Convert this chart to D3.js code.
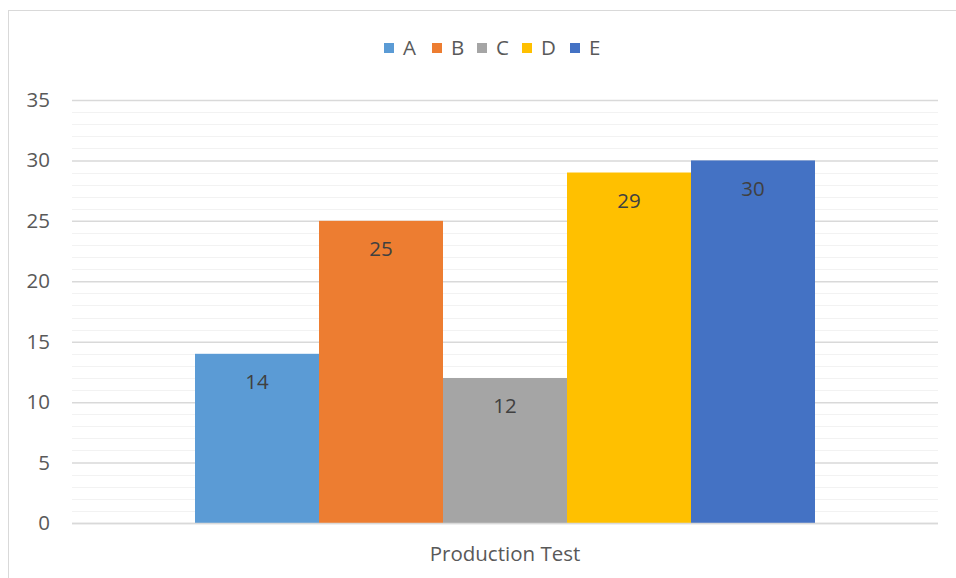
<!DOCTYPE html>
<html>
<head>
<meta charset="utf-8">
<script src="https://cdn.jsdelivr.net/npm/d3@7/dist/d3.min.js"></script>
<style>
  html, body { margin: 0; padding: 0; background: #fff; }
  svg { display: block; font-family: "Open Sans", "Noto Sans", sans-serif; }
</style>
</head>
<body>
<svg id="chart" width="956" height="578"></svg>
<script>
// Series data
const seriesNames = ["A", "B", "C", "D", "E"];
const seriesValues = [14, 25, 12, 29, 30];
const seriesColors = ["#5B9BD5", "#ED7D31", "#A5A5A5", "#FFC000", "#4472C4"];
const categoryLabel = "Production Test";
const yTicks = [0, 5, 10, 15, 20, 25, 30, 35];

const svg = d3.select("#chart");
const W = 956, H = 578;
const margin = { left: 72, right: 18, top: 100, bottom: 55 };
const plotW = W - margin.left - margin.right;
const plotH = H - margin.top - margin.bottom;
const fontSize = 20.5;

// Chart frame
svg.append("rect")
  .attr("x", 8.5).attr("y", 10.5)
  .attr("width", 980).attr("height", 600)
  .attr("fill", "#fff").attr("stroke", "#d9d9d9").attr("stroke-width", 1);

const g = svg.append("g").attr("transform", `translate(${margin.left},${margin.top})`);

const y = d3.scaleLinear().domain([0, 35]).range([plotH, 0]);
const xCat = d3.scaleBand().domain([categoryLabel]).range([0, plotW]).paddingInner(0).paddingOuter(0.1984);
const xSeries = d3.scaleBand().domain(seriesNames).range([xCat(categoryLabel), xCat(categoryLabel) + xCat.bandwidth()]);

// Minor gridlines
g.append("g").selectAll("line")
  .data(d3.range(0, 36).filter(v => v % 5 !== 0))
  .join("line")
  .attr("x1", 0).attr("x2", plotW)
  .attr("y1", d => Math.round(y(d)) + 0.5).attr("y2", d => Math.round(y(d)) + 0.5)
  .attr("stroke", "#f2f2f2").attr("stroke-width", 1);

// Major gridlines and axis labels
const yAxis = d3.axisLeft(y).tickValues(yTicks).tickSize(-plotW).tickPadding(22).tickFormat(d3.format("d"));
const yg = g.append("g").call(yAxis);
yg.select(".domain").remove();
yg.selectAll(".tick line").attr("stroke", "#d9d9d9").attr("stroke-width", 1.5);
yg.selectAll(".tick text")
  .attr("fill", "#595959").attr("font-size", fontSize)
  .attr("font-family", "'Open Sans', 'Noto Sans', sans-serif");

// Bars
g.append("g").selectAll("rect")
  .data(seriesNames)
  .join("rect")
  .attr("x", d => xSeries(d))
  .attr("width", xSeries.bandwidth())
  .attr("y", (d, i) => y(seriesValues[i]))
  .attr("height", (d, i) => plotH - y(seriesValues[i]))
  .attr("fill", (d, i) => seriesColors[i]);

// Baseline
g.append("line")
  .attr("x1", 0).attr("x2", plotW)
  .attr("y1", plotH + 0.5).attr("y2", plotH + 0.5)
  .attr("stroke", "#d9d9d9").attr("stroke-width", 1.5);

// Value labels inside the bar tops
g.append("g").selectAll("text")
  .data(seriesNames)
  .join("text")
  .attr("x", d => xSeries(d) + xSeries.bandwidth() / 2)
  .attr("y", (d, i) => y(seriesValues[i]) + 35.5)
  .attr("text-anchor", "middle")
  .attr("font-size", fontSize)
  .attr("fill", "#404040")
  .text((d, i) => seriesValues[i]);

// Category label
g.append("text")
  .attr("x", xCat(categoryLabel) + xCat.bandwidth() / 2)
  .attr("y", plotH + 38)
  .attr("text-anchor", "middle")
  .attr("font-size", fontSize)
  .attr("fill", "#595959")
  .text(categoryLabel);

// Legend
const legendX = [384, 432, 477, 522, 570];
const legend = svg.append("g").selectAll("g")
  .data(seriesNames)
  .join("g")
  .attr("transform", (d, i) => `translate(${legendX[i]},43)`);
legend.append("rect")
  .attr("width", 10).attr("height", 10)
  .attr("fill", (d, i) => seriesColors[i]);
legend.append("text")
  .attr("x", 19).attr("y", 12)
  .attr("font-size", fontSize)
  .attr("fill", "#595959")
  .text(d => d);
</script>
</body>
</html>
